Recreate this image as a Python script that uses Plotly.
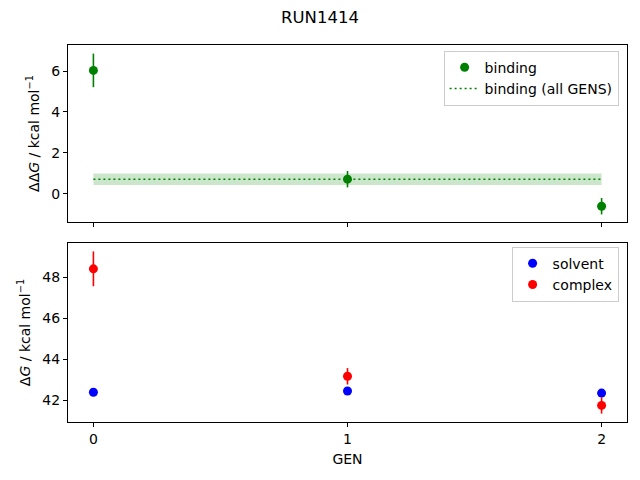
import plotly.graph_objects as go

gens = [0, 1, 2]
binding = [6.03, 0.72, -0.60]
binding_err = [0.82, 0.40, 0.40]
binding_all = 0.72
binding_all_err = 0.28
solvent = [42.38, 42.44, 42.34]
solvent_err = [0.05, 0.05, 0.05]
complex_ = [48.40, 43.16, 41.74]
complex_err = [0.85, 0.40, 0.40]

FONT = "DejaVu Sans"
fig = go.Figure()

# band for all-GENs binding
band_x = [gens[0], gens[-1], gens[-1], gens[0], gens[0]]
band_y = [binding_all - binding_all_err] * 2 + [binding_all + binding_all_err] * 2 + [binding_all - binding_all_err]
fig.add_trace(go.Scatter(x=band_x, y=band_y, fill="toself", mode="lines",
                         line=dict(width=0), fillcolor="rgba(0,128,0,0.2)",
                         showlegend=False, hoverinfo="skip", xaxis="x", yaxis="y"))
fig.add_trace(go.Scatter(x=gens, y=binding, mode="markers", name="binding",
                         marker=dict(color="green", size=9),
                         error_y=dict(type="data", array=binding_err, color="green", thickness=1.6, width=0),
                         xaxis="x", yaxis="y", legend="legend"))
fig.add_trace(go.Scatter(x=[gens[0], gens[-1]], y=[binding_all, binding_all], mode="lines",
                         name="binding (all GENS)", line=dict(color="green", dash="2px,3px", width=1.6),
                         xaxis="x", yaxis="y", legend="legend"))

fig.add_trace(go.Scatter(x=gens, y=solvent, mode="markers", name="solvent",
                         marker=dict(color="blue", size=9),
                         error_y=dict(type="data", array=solvent_err, color="blue", thickness=1.6, width=0),
                         xaxis="x2", yaxis="y2", legend="legend2"))
fig.add_trace(go.Scatter(x=gens, y=complex_, mode="markers", name="complex",
                         marker=dict(color="red", size=9),
                         error_y=dict(type="data", array=complex_err, color="red", thickness=1.6, width=0),
                         xaxis="x2", yaxis="y2", legend="legend2"))

axis_common = dict(showline=True, linecolor="black", linewidth=1, mirror=True,
                   ticks="outside", ticklen=4, tickcolor="black", showgrid=False,
                   zeroline=False, automargin=False,
                   tickfont=dict(family=FONT, size=14, color="black"))

fig.update_layout(
    width=640, height=480,
    paper_bgcolor="white", plot_bgcolor="white",
    margin=dict(l=68, r=13, t=45, b=58, autoexpand=False),
    font=dict(family=FONT, size=14, color="black"),
    title=dict(text="RUN1414", x=0.5, xanchor="center", y=1 - 17 / 480, yanchor="middle",
               yref="container", automargin=False,
               font=dict(family=FONT, size=16.5, color="black")),
    xaxis=dict(domain=[0, 1], anchor="y", range=[-0.1, 2.1], tickvals=gens,
               showticklabels=False, **axis_common),
    yaxis=dict(domain=[0.5305, 1], anchor="x", range=[-1.37, 7.27], tickvals=[0, 2, 4, 6],
               title=dict(text="ΔΔ<i>G</i> / kcal mol<sup>−1</sup>", font=dict(family=FONT, size=14), standoff=8),
               **axis_common),
    xaxis2=dict(domain=[0, 1], anchor="y2", range=[-0.1, 2.1], tickvals=gens,
                title=dict(text="GEN", font=dict(family=FONT, size=14), standoff=8),
                **axis_common),
    yaxis2=dict(domain=[0, 0.4748], anchor="x2", range=[40.93, 49.66], tickvals=[42, 44, 46, 48],
                title=dict(text="Δ<i>G</i> / kcal mol<sup>−1</sup>", font=dict(family=FONT, size=14), standoff=8),
                **axis_common),
    legend=dict(x=0.985, y=0.985, xanchor="right", yanchor="top", bgcolor="rgba(255,255,255,0.8)",
                bordercolor="#cccccc", borderwidth=1, font=dict(family=FONT, size=14)),
    legend2=dict(x=0.985, y=0.465, xanchor="right", yanchor="top", bgcolor="rgba(255,255,255,0.8)",
                 bordercolor="#cccccc", borderwidth=1, font=dict(family=FONT, size=14)),
)

fig.write_html("out.html", config={"displayModeBar": False},
               post_script="document.body.style.margin='0';")
